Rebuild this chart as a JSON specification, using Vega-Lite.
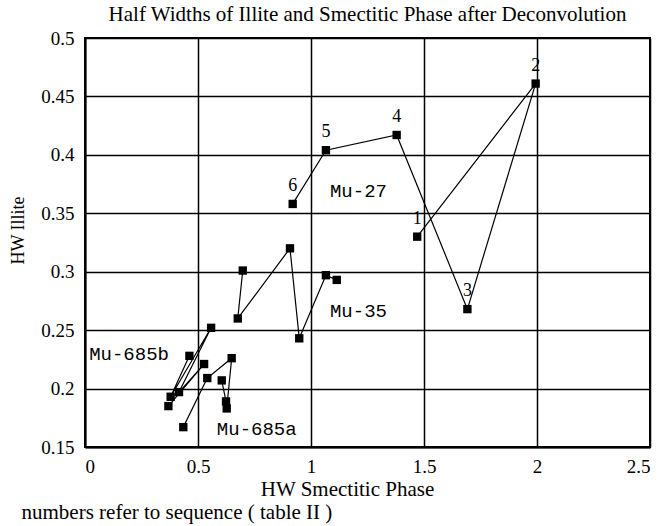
{
  "$schema": "https://vega.github.io/schema/vega-lite/v6.json",
  "width": 565,
  "height": 409,
  "autosize": {"type": "none"},
  "padding": {"left": 85, "top": 38, "right": 10, "bottom": 79},
  "background": "white",
  "title": {
    "text": "Half Widths of Illite and Smectitic Phase after Deconvolution",
    "font": "Liberation Serif",
    "fontSize": 21,
    "fontWeight": "normal",
    "color": "black",
    "offset": 4,
    "anchor": "middle"
  },
  "config": {
    "view": {"stroke": "black", "strokeWidth": 2},
    "axis": {"labelFont": "Liberation Serif", "titleFont": "Liberation Serif", "labelColor": "black", "titleColor": "black", "titleFontWeight": "normal"}
  },
  "datasets": {
    "pts": [
      {"series": "Mu-27", "seq": 1, "x": 1.47, "y": 0.330, "label": "1"},
      {"series": "Mu-27", "seq": 2, "x": 1.994, "y": 0.461, "label": "2"},
      {"series": "Mu-27", "seq": 3, "x": 1.692, "y": 0.268, "label": "3"},
      {"series": "Mu-27", "seq": 4, "x": 1.379, "y": 0.417, "label": "4"},
      {"series": "Mu-27", "seq": 5, "x": 1.066, "y": 0.404, "label": "5"},
      {"series": "Mu-27", "seq": 6, "x": 0.919, "y": 0.358, "label": "6"},
      {"series": "Mu-35", "seq": 1, "x": 0.698, "y": 0.301, "label": ""},
      {"series": "Mu-35", "seq": 2, "x": 0.676, "y": 0.260, "label": ""},
      {"series": "Mu-35", "seq": 3, "x": 0.907, "y": 0.320, "label": ""},
      {"series": "Mu-35", "seq": 4, "x": 0.948, "y": 0.243, "label": ""},
      {"series": "Mu-35", "seq": 5, "x": 1.066, "y": 0.297, "label": ""},
      {"series": "Mu-35", "seq": 6, "x": 1.114, "y": 0.293, "label": ""},
      {"series": "Mu-685b", "seq": 1, "x": 0.369, "y": 0.185, "label": ""},
      {"series": "Mu-685b", "seq": 2, "x": 0.527, "y": 0.221, "label": ""},
      {"series": "Mu-685b", "seq": 3, "x": 0.416, "y": 0.197, "label": ""},
      {"series": "Mu-685b", "seq": 4, "x": 0.558, "y": 0.252, "label": ""},
      {"series": "Mu-685b", "seq": 5, "x": 0.379, "y": 0.193, "label": ""},
      {"series": "Mu-685b", "seq": 6, "x": 0.462, "y": 0.228, "label": ""},
      {"series": "Mu-685a", "seq": 1, "x": 0.435, "y": 0.167, "label": ""},
      {"series": "Mu-685a", "seq": 2, "x": 0.541, "y": 0.209, "label": ""},
      {"series": "Mu-685a", "seq": 3, "x": 0.649, "y": 0.226, "label": ""},
      {"series": "Mu-685a", "seq": 4, "x": 0.627, "y": 0.183, "label": ""},
      {"series": "Mu-685a", "seq": 5, "x": 0.624, "y": 0.189, "label": ""},
      {"series": "Mu-685a", "seq": 6, "x": 0.605, "y": 0.207, "label": ""}
    ],
    "names": [
      {"name": "Mu-27", "x": 1.21, "y": 0.369},
      {"name": "Mu-35", "x": 1.21, "y": 0.266},
      {"name": "Mu-685b", "x": 0.195, "y": 0.230},
      {"name": "Mu-685a", "x": 0.76, "y": 0.165}
    ]
  },
  "resolve": {"axis": {"x": "independent"}},
  "layer": [
    {
      "data": {"name": "pts"},
      "mark": {"type": "line", "color": "black", "strokeWidth": 1.2},
      "encoding": {
        "x": {
          "field": "x", "type": "quantitative",
          "scale": {"domain": [0, 2.5], "nice": false, "zero": false},
          "axis": {
            "values": [0, 0.5, 1, 1.5, 2, 2.5], "format": "~g",
            "title": "HW  Smectitic Phase", "titleFontSize": 21,
            "titleX": 262, "titleY": 48, "titleAlign": "center", "titleBaseline": "alphabetic",
            "labelFontSize": 19, "labelPadding": 10, "ticks": false,
            "grid": true, "gridColor": "black", "gridWidth": 1.5, "gridOpacity": 1,
            "domain": true, "domainColor": "black", "domainWidth": 2
          }
        },
        "y": {
          "field": "y", "type": "quantitative",
          "scale": {"domain": [0.15, 0.5], "nice": false, "zero": false},
          "axis": {
            "values": [0.15, 0.2, 0.25, 0.3, 0.35, 0.4, 0.45, 0.5], "format": "~g",
            "title": "HW  Illite", "titleFontSize": 18,
            "titleX": -67, "titleY": 192, "titleAlign": "center", "titleBaseline": "middle", "titleAngle": -90,
            "labelFontSize": 19, "labelPadding": 11, "ticks": false,
            "grid": true, "gridColor": "black", "gridWidth": 1.5, "gridOpacity": 1,
            "domain": true, "domainColor": "black", "domainWidth": 2
          }
        },
        "detail": {"field": "series"},
        "order": {"field": "seq", "type": "quantitative"}
      }
    },
    {
      "data": {"name": "pts"},
      "mark": {"type": "square", "color": "black", "filled": true, "size": 70, "opacity": 1},
      "encoding": {
        "x": {"field": "x", "type": "quantitative", "axis": null},
        "y": {"field": "y", "type": "quantitative"}
      }
    },
    {
      "data": {"name": "pts"},
      "mark": {"type": "text", "font": "Liberation Serif", "fontSize": 18, "color": "black", "baseline": "bottom", "align": "center", "dy": -9},
      "encoding": {
        "x": {"field": "x", "type": "quantitative", "axis": null},
        "y": {"field": "y", "type": "quantitative"},
        "text": {"field": "label"}
      }
    },
    {
      "data": {"name": "names"},
      "mark": {"type": "text", "font": "Liberation Mono", "fontSize": 19, "color": "black", "baseline": "middle", "align": "center"},
      "encoding": {
        "x": {
          "field": "x", "type": "quantitative",
          "axis": {
            "orient": "bottom", "labels": false, "ticks": false, "domain": false, "grid": false,
            "title": "numbers refer to sequence ( table II )",
            "titleFont": "Liberation Serif", "titleFontSize": 21, "titleFontWeight": "normal",
            "titleAnchor": "start", "titleAlign": "left", "titleX": -64, "titleY": 71, "titleBaseline": "alphabetic"
          }
        },
        "y": {"field": "y", "type": "quantitative"},
        "text": {"field": "name"}
      }
    }
  ]
}
